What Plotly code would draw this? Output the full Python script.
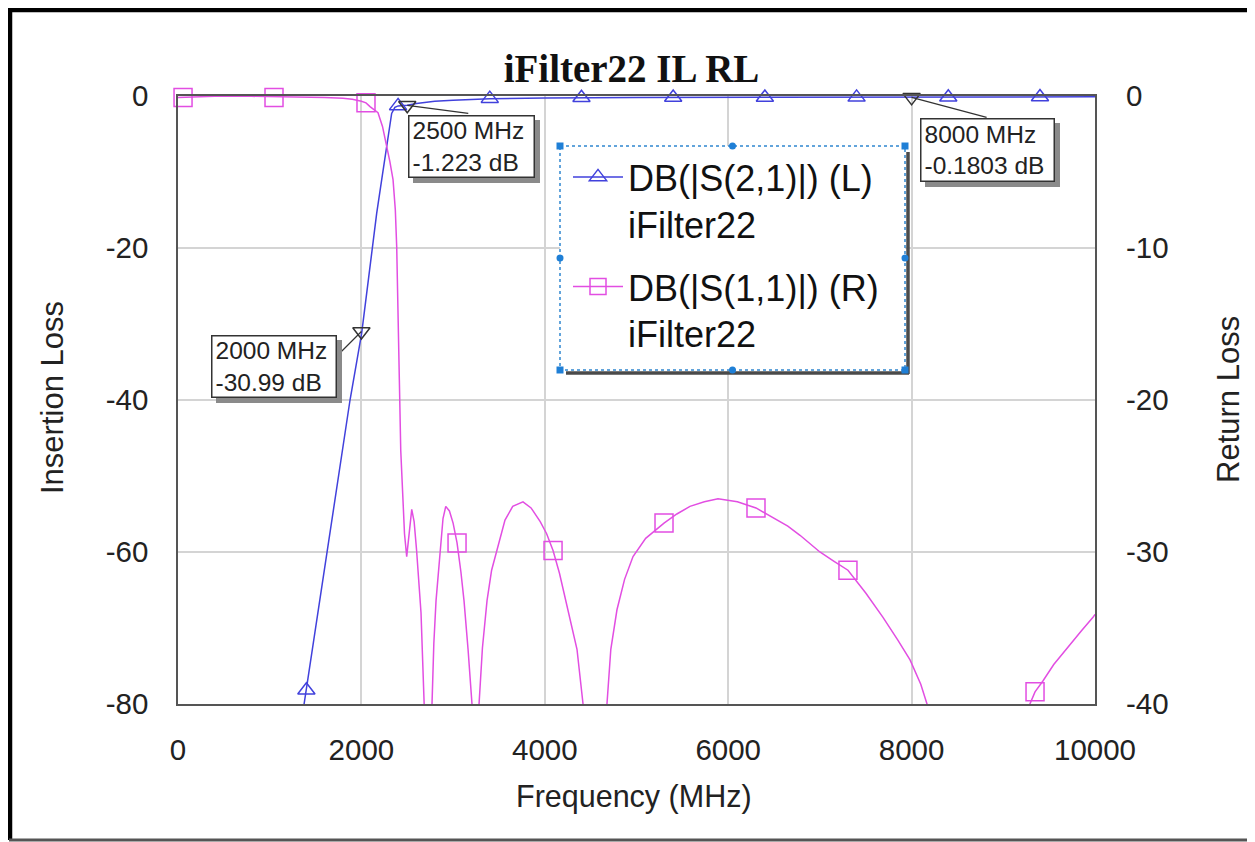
import plotly.graph_objects as go

# ---------------- data ----------------
# S21 (insertion loss, left axis, dB)
s21_f = [1300, 1376, 1500, 1600, 1700, 1800, 1876, 1950, 2003, 2080, 2167, 2230, 2276,
         2330, 2365, 2400, 2500, 2600, 2800, 3000, 3400, 4000, 5000, 6000, 7000, 8000, 9000, 10000]
s21_db = [-86.0, -80.0, -70.1, -62.1, -54.1, -46.1, -40.0, -34.9, -31.2, -23.8, -15.4, -10.3, -6.7,
          -2.3, -1.5, -1.3, -1.223, -1.0, -0.7, -0.55, -0.35, -0.25, -0.2, -0.19, -0.18, -0.18, -0.15, -0.1]
s21_mark_f = [1400, 2400, 3400, 4400, 5400, 6400, 7400, 8400, 9400]
s21_mark_db = [-78.2, -1.3, -0.35, -0.24, -0.2, -0.19, -0.18, -0.17, -0.14]

# S11 (return loss, right axis, dB)
s11_f = [0, 200, 400, 800, 1200, 1600, 1800, 1900, 2000, 2050, 2094, 2140, 2181, 2230, 2276,
         2310, 2345, 2370, 2385, 2403, 2414, 2429, 2450, 2470, 2494, 2520, 2549, 2575, 2602,
         2650, 2694, 2730, 2770, 2790, 2814, 2857, 2890, 2920, 2960, 3000, 3043, 3085, 3119,
         3163, 3206, 3245, 3283, 3320, 3370, 3420, 3480, 3566, 3650, 3762, 3850, 3950, 4020,
         4090, 4160, 4231, 4300, 4351, 4417, 4550, 4678, 4720, 4787, 4870, 4962, 5100, 5300,
         5440, 5583, 5740, 5889, 6100, 6303, 6500, 6650, 6783, 7000, 7150, 7306, 7500, 7688,
         7850, 7983, 8100, 8168, 8700, 9290, 9346, 9430, 9550, 9695, 9850, 9978, 10000]
s11_db = [-0.1, -0.05, -0.02, -0.02, -0.05, -0.1, -0.15, -0.22, -0.35, -0.45, -0.7, -0.9, -1.1,
          -2.0, -3.3, -4.3, -5.5, -7.5, -9.9, -14.3, -18.7, -23.3, -26.6, -28.8, -30.3, -28.8,
          -27.2, -28.0, -29.9, -34.0, -40.0, -48.0, -40.0, -36.0, -33.2, -29.9, -27.8, -27.0,
          -27.3, -28.1, -29.4, -31.3, -33.2, -36.4, -40.0, -48.0, -40.0, -36.3, -33.2, -31.2,
          -29.9, -27.9, -27.0, -26.7, -27.1, -28.0, -28.8, -29.9, -31.4, -33.2, -34.9, -36.4,
          -40.0, -50.0, -40.0, -36.4, -33.8, -31.8, -30.3, -29.1, -28.1, -27.5, -27.0, -26.7,
          -26.5, -26.7, -27.1, -27.8, -28.3, -28.9, -30.0, -30.6, -31.2, -32.7, -34.3, -35.8,
          -37.1, -38.7, -40.0, -55.0, -40.0, -39.2, -38.5, -37.4, -36.3, -35.2, -34.3, -34.1]
s11_mark_f = [55, 1047, 2050, 3043, 4090, 5300, 6303, 7306, 9346]
s11_mark_db = [-0.1, -0.1, -0.45, -29.4, -29.9, -28.1, -27.1, -31.2, -39.2]

# marker read-outs on S21
readout_f = [2000, 2500, 8000]
readout_db = [-30.99, -1.223, -0.1803]
readout_text = ["2000 MHz<br>-30.99 dB", "2500 MHz<br>-1.223 dB", "8000 MHz<br>-0.1803 dB"]

x_ticks = [0, 2000, 4000, 6000, 8000, 10000]
yl_ticks = [-80, -60, -40, -20, 0]
yr_ticks = [-40, -30, -20, -10, 0]

title_text = "iFilter22 IL RL"
s21_name = "DB(|S(2,1)|) (L)<br>iFilter22"
s11_name = "DB(|S(1,1)|) (R)<br>iFilter22"

# ---------------- layout geometry (page pixels) ----------------
OFF = 8                      # page body margin that the browser adds
W, H = 1255 - OFF, 842 - OFF
L, R, T, B = 178, 1095, 96, 704   # plot area in page pixels


def px(X):
    return (X - L) / (R - L)


def py(Y):
    return (B - Y) / (B - T)


BLUE = "#4141dc"
PINK = "#e24ee2"
FONT = "Liberation Sans"

fig = go.Figure()

fig.add_trace(go.Scatter(x=s21_f, y=s21_db, mode="lines", line=dict(color=BLUE, width=1.5),
                         showlegend=False, hoverinfo="skip"))
fig.add_trace(go.Scatter(x=s21_mark_f, y=s21_mark_db, mode="markers",
                         marker=dict(symbol="triangle-up-open", size=15, color=BLUE, line=dict(width=1.5)),
                         showlegend=False, cliponaxis=False, hoverinfo="skip"))
fig.add_trace(go.Scatter(x=s11_f, y=s11_db, mode="lines", line=dict(color=PINK, width=1.5),
                         yaxis="y2", showlegend=False, hoverinfo="skip"))
fig.add_trace(go.Scatter(x=s11_mark_f, y=s11_mark_db, mode="markers", yaxis="y2",
                         marker=dict(symbol="square-open", size=18, color=PINK, line=dict(width=1.5)),
                         showlegend=False, cliponaxis=False, hoverinfo="skip"))
fig.add_trace(go.Scatter(x=readout_f, y=readout_db, mode="markers",
                         marker=dict(symbol="triangle-down-open", size=15, color="#333333", line=dict(width=1.5)),
                         showlegend=False, cliponaxis=False, hoverinfo="skip"))

# legend-only entries
fig.add_trace(go.Scatter(x=[None], y=[None], mode="lines+markers", name=s21_name, legendgroup="a",
                         line=dict(color=BLUE, width=1.5),
                         marker=dict(symbol="triangle-up-open", size=15, color=BLUE, line=dict(width=1.5))))
fig.add_trace(go.Scatter(x=[None], y=[None], mode="lines+markers", name=s11_name, legendgroup="b",
                         yaxis="y2", line=dict(color=PINK, width=1.5),
                         marker=dict(symbol="square-open", size=18, color=PINK, line=dict(width=1.5))))

shapes = []


def pline(x0, y0, x1, y1, color, width, layer="above", dash="solid"):
    shapes.append(dict(type="line", xref="paper", yref="paper", x0=px(x0), x1=px(x1),
                       y0=py(y0), y1=py(y1), line=dict(color=color, width=width, dash=dash), layer=layer))


# outer frame
pline(10, 8, 10, 840, "black", 4.5)
pline(8, 10, 1253, 10, "black", 4.5)
pline(1252.5, 9, 1252.5, 841, "#555555", 3)
pline(9, 840, 1254, 840, "#555555", 3)

# legend box: white panel, shadow, dotted border, handles
LX0, LX1, LY0, LY1 = 560, 905, 146, 370
shapes.append(dict(type="rect", xref="paper", yref="paper", x0=px(LX0), x1=px(LX1),
                   y0=py(LY0), y1=py(LY1), line=dict(width=0), fillcolor="white", layer="above"))
pline(LX1 + 3, LY0 + 6, LX1 + 3, LY1 + 4, "#4a4a4a", 3.5)
pline(LX0 + 6, LY1 + 3, LX1 + 4, LY1 + 3, "#4a4a4a", 3.5)
shapes.append(dict(type="rect", xref="paper", yref="paper", x0=px(LX0), x1=px(LX1),
                   y0=py(LY0), y1=py(LY1), line=dict(color="#2f86cf", width=1.5, dash="dot"),
                   fillcolor="rgba(0,0,0,0)", layer="above"))
hs = 3.5
for hx in (LX0, (LX0 + LX1) / 2, LX1):
    for hy in (LY0, (LY0 + LY1) / 2, LY1):
        if hx == (LX0 + LX1) / 2 and hy == (LY0 + LY1) / 2:
            continue
        corner = hx in (LX0, LX1) and hy in (LY0, LY1)
        shapes.append(dict(type="rect" if corner else "circle", xref="paper", yref="paper",
                           x0=px(hx - hs), x1=px(hx + hs), y0=py(hy - hs), y1=py(hy + hs),
                           line=dict(width=0), fillcolor="#1f7fd6", layer="above"))

# pointer lines from read-out markers to their label boxes (pixel offsets)
pointer_offsets = [(-24, -24), (61, -8), (75, -20)]
for f, db, (dx, dy) in zip(readout_f, readout_db, pointer_offsets):
    shapes.append(dict(type="line", xref="x", yref="y", xsizemode="pixel", ysizemode="pixel",
                       xanchor=f, yanchor=db, x0=0, y0=0, x1=dx, y1=dy,
                       line=dict(color="#333333", width=1.2), layer="above"))

# read-out label boxes: drop shadows as rectangles
box_rects = [(211, 335, 337, 398), (408, 115, 535, 178), (920, 118, 1055, 182)]
for (bx0, by0, bx1, by1) in box_rects:
    shapes.append(dict(type="rect", xref="paper", yref="paper", x0=px(bx0 + 5), x1=px(bx1 + 5),
                       y0=py(by0 + 5), y1=py(by1 + 5), line=dict(width=0), fillcolor="#8a8a8a",
                       layer="above"))

annotations = []
for (bx0, by0, bx1, by1), txt in zip(box_rects, readout_text):
    annotations.append(dict(text=txt, xref="paper", yref="paper", x=px(bx0), y=py(by0),
                            xanchor="left", yanchor="top", align="left", showarrow=False,
                            width=bx1 - bx0 - 9, height=by1 - by0 - 9,
                            font=dict(family=FONT, size=24.5, color="#222222"),
                            bgcolor="white", bordercolor="#333333", borderwidth=1.5, borderpad=3))

# axis titles
annotations.append(dict(text="Insertion Loss", xref="paper", yref="paper", x=px(52), y=py(398),
                        xanchor="center", yanchor="middle", textangle=-90, showarrow=False,
                        font=dict(family=FONT, size=31, color="#222222")))
annotations.append(dict(text="Return Loss", xref="paper", yref="paper", x=px(1228), y=py(400),
                        xanchor="center", yanchor="middle", textangle=-90, showarrow=False,
                        font=dict(family=FONT, size=31, color="#222222")))
annotations.append(dict(text="Frequency (MHz)", xref="paper", yref="paper", x=px(634), y=py(796),
                        xanchor="center", yanchor="middle", showarrow=False,
                        font=dict(family=FONT, size=30.5, color="#222222")))

fig.update_layout(
    width=W, height=H,
    margin=dict(l=L - OFF, r=(W + OFF) - R, t=T - OFF, b=(H + OFF) - B, pad=0),
    paper_bgcolor="white", plot_bgcolor="white",
    title=dict(text="<b>" + title_text + "</b>", x=(631.5 - OFF) / W, xref="container", xanchor="center",
               y=1 - (68 - OFF) / H, yref="container", yanchor="middle",
               font=dict(family="Liberation Serif", size=39, color="#111111")),
    xaxis=dict(range=[0, 10000], tickvals=x_ticks, ticktext=[str(v) for v in x_ticks],
               showgrid=True, gridcolor="#d4d4d4", gridwidth=1.5, zeroline=False,
               showline=True, linecolor="#555555", linewidth=1.5, mirror=True,
               ticks="", ticklabelstandoff=19,
               tickfont=dict(family=FONT, size=29.5, color="#222222")),
    yaxis=dict(range=[-80, 0], tickvals=yl_ticks, ticktext=[str(v) for v in yl_ticks],
               showgrid=True, gridcolor="#d4d4d4", gridwidth=1.5, zeroline=False,
               showline=True, linecolor="#555555", linewidth=1.5, mirror=True,
               ticks="", ticklabelstandoff=22,
               tickfont=dict(family=FONT, size=29.5, color="#222222")),
    yaxis2=dict(range=[-40, 0], tickvals=yr_ticks, ticktext=[str(v) for v in yr_ticks],
                overlaying="y", side="right", showgrid=False, zeroline=False,
                showline=False, ticks="", ticklabelstandoff=30,
                tickfont=dict(family=FONT, size=29.5, color="#222222")),
    legend=dict(x=px(568), y=py(147), xanchor="left", yanchor="top",
                bgcolor="rgba(0,0,0,0)", borderwidth=0, valign="top", itemwidth=50,
                tracegroupgap=13, font=dict(family=FONT, size=36, color="#111111")),
    shapes=shapes,
    annotations=annotations,
    showlegend=True,
)

fig.write_html("out.html")
